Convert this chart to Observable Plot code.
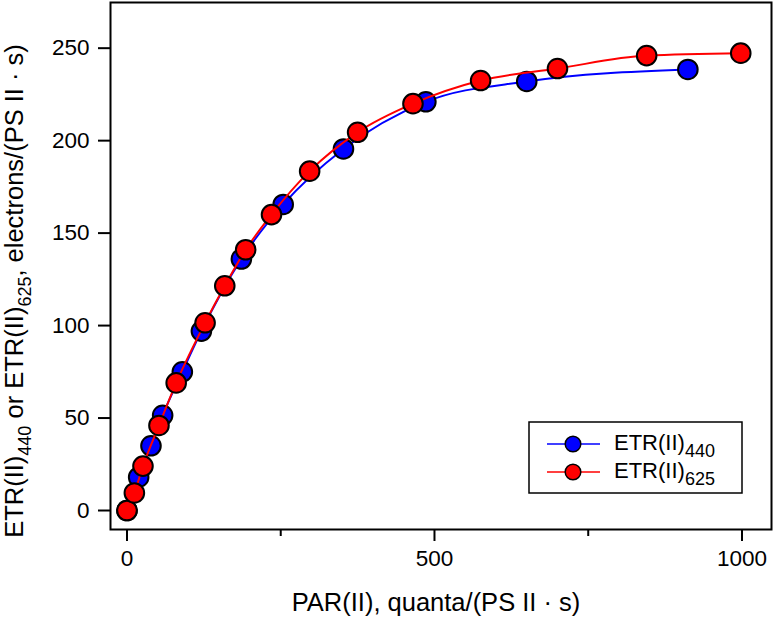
<!DOCTYPE html>
<html>
<head>
<meta charset="utf-8">
<script src="https://cdn.jsdelivr.net/npm/d3@7"></script>
<script src="https://cdn.jsdelivr.net/npm/@observablehq/plot@0.6"></script>
<style>
  html, body { margin: 0; padding: 0; background: #fff; }
  #chart svg { display: block; }
</style>
</head>
<body>
<div id="chart"></div>
<script>
// ---- data ----
const blueX = [0, 19, 39, 58, 90, 121, 186, 254, 352, 486, 650, 912];
const blueY = [0, 18, 35, 51.5, 75, 97, 136, 165.5, 195.5, 221, 232, 238.5];
const redX = [0, 12, 26, 52, 80, 127, 159, 193, 235, 297, 375, 465, 575, 700, 845, 998];
const redY = [0, 9.5, 24, 46, 69, 101.5, 121.5, 141, 160, 183.5, 204.5, 220, 232.5, 239, 246, 247.3];
const seriesSubs = ["440", "625"];
const seriesColors = ["#0000ff", "#ff0000"];
const xTicks = [0, 500, 1000];
const xMinorTicks = [250, 750];
const yTicks = [0, 50, 100, 150, 200, 250];

const blue = blueX.map((x, i) => ({x, y: blueY[i]}));
const red = redX.map((x, i) => ({x, y: redY[i]}));

const W = 774, H = 617;
const svg = Plot.plot({
  width: W,
  height: H,
  marginLeft: 110,
  marginRight: 3,
  marginTop: 2,
  marginBottom: 88,
  style: {fontFamily: "'Liberation Sans', Arial, sans-serif", fontSize: "22.5px", color: "black", background: "white"},
  x: {domain: [-26.8, 1048]},
  y: {domain: [-10.27, 274.7]},
  marks: [
    Plot.axisY({ticks: yTicks, tickSize: 12, tickPadding: 9, strokeWidth: 2, label: null, tickFormat: d3.format("d")}),
    Plot.axisX({ticks: xTicks, tickSize: 12, tickPadding: 9, strokeWidth: 2, label: null, tickFormat: d3.format("d")}),
    Plot.axisX({ticks: xMinorTicks, tickSize: 7, strokeWidth: 2, tickFormat: () => "", label: null}),
    Plot.line(blue, {x: "x", y: "y", stroke: seriesColors[0], strokeWidth: 2, curve: "monotone-x"}),
    Plot.dot(blue, {x: "x", y: "y", r: 9.8, fill: seriesColors[0], stroke: "black", strokeWidth: 2}),
    Plot.line(red, {x: "x", y: "y", stroke: seriesColors[1], strokeWidth: 2, curve: "monotone-x"}),
    Plot.dot(red, {x: "x", y: "y", r: 9.8, fill: seriesColors[1], stroke: "black", strokeWidth: 2}),
    Plot.frame({stroke: "black", strokeWidth: 2})
  ]
});

const s = d3.select(svg);

// x axis label
s.append("text")
  .attr("x", 436).attr("y", 611)
  .attr("text-anchor", "middle")
  .attr("font-size", 25.5)
  .attr("fill", "black")
  .text("PAR(II), quanta/(PS II · s)");

// y axis label with subscripts
const yl = s.append("text")
  .attr("transform", "translate(23,291) rotate(-90)")
  .attr("text-anchor", "middle")
  .attr("font-size", 25.5)
  .attr("fill", "black");
yl.append("tspan").text("ETR(II)");
yl.append("tspan").attr("font-size", 18).attr("dy", 8).text(seriesSubs[0]);
yl.append("tspan").attr("dy", -8).text(" or ETR(II)");
yl.append("tspan").attr("font-size", 18).attr("dy", 8).text(seriesSubs[1]);
yl.append("tspan").attr("dy", -8).text(", electrons/(PS II · s)");

// legend
const lg = s.append("g").attr("text-anchor", "start");
lg.append("rect").attr("x", 529).attr("y", 422).attr("width", 213).attr("height", 71)
  .attr("fill", "white").attr("stroke", "black").attr("stroke-width", 1.5);
seriesSubs.forEach((sub, i) => {
  const cy = 444 + i * 28;
  lg.append("line").attr("x1", 547).attr("x2", 600).attr("y1", cy).attr("y2", cy)
    .attr("stroke", seriesColors[i]).attr("stroke-width", 1.5);
  lg.append("circle").attr("cx", 573).attr("cy", cy).attr("r", 7.8)
    .attr("fill", seriesColors[i]).attr("stroke", "black").attr("stroke-width", 1.5);
  const t = lg.append("text").attr("x", 614).attr("y", cy + 6).attr("font-size", 22)
    .attr("fill", "black").attr("text-anchor", "start");
  t.append("tspan").text("ETR(II)");
  t.append("tspan").attr("font-size", 18).attr("dy", 7).text(sub);
});

document.getElementById("chart").appendChild(svg);
</script>
</body>
</html>
